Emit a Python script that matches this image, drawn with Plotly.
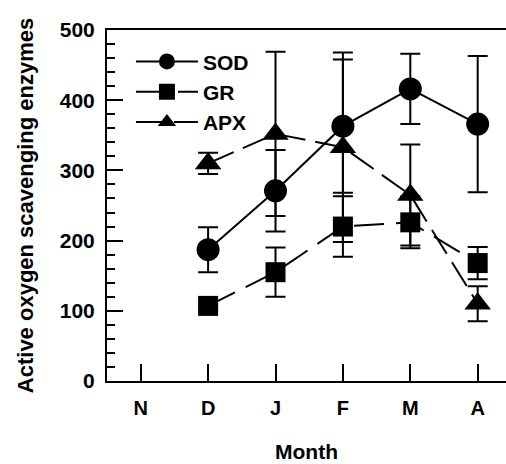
import plotly.graph_objects as go

months = ["N", "D", "J", "F", "M", "A"]

# Enzyme activities per month (None = not measured)
sod = [None, 187, 271, 363, 416, 366]
sod_err = [None, 32, 58, 95, 50, 97]

gr = [None, 107, 155, 220, 226, 168]
gr_err = [None, 0, 35, 43, 37, 23]

apx = [None, 310, 352, 333, 265, 110]
apx_err = [None, 15, 117, 135, 72, 25]

x = list(range(len(months)))
font_family = "Liberation Sans, Arial, sans-serif"

def series(name, y, err, symbol, size, dash):
    return go.Scatter(
        x=x, y=y, name=name, mode="lines+markers",
        connectgaps=False,
        line=dict(color="black", width=2, dash=dash),
        marker=dict(symbol=symbol, size=size, color="black"),
        error_y=dict(type="data", array=err, visible=True,
                     color="black", thickness=2, width=10),
    )

fig = go.Figure([
    series("SOD", sod, sod_err, "circle", 23, "solid"),
    series("GR", gr, gr_err, "square", 20, "30px,12px"),
    series("APX", apx, apx_err, "triangle-up", 23, "28px,10px"),
])

fig.update_layout(
    width=506, height=464,
    margin=dict(l=107, r=0, t=30, b=83),
    plot_bgcolor="white", paper_bgcolor="white",
    font=dict(family=font_family, size=21, color="black", weight="bold"),
    showlegend=True,
    legend=dict(x=0.06, y=0.968, xanchor="left", yanchor="top",
                bgcolor="rgba(0,0,0,0)", itemwidth=62,
                font=dict(size=21, weight="bold"), tracegroupgap=0),
)

fig.update_xaxes(
    range=[-0.5, 5.42], tickvals=x, ticktext=months,
    showline=True, linecolor="black", linewidth=2, mirror=True,
    ticks="inside", ticklen=17, tickwidth=2, tickcolor="black",
    tickfont=dict(size=20), ticklabelstandoff=8,
    showgrid=False, zeroline=False,
    title=dict(text="Month", font=dict(size=21, weight="bold"), standoff=26),
)

fig.update_yaxes(
    range=[0, 500], dtick=100,
    showline=True, linecolor="black", linewidth=2, mirror=False,
    ticks="inside", ticklen=16, tickwidth=2, tickcolor="black",
    tickfont=dict(size=21), ticklabelstandoff=6,
    minor=dict(dtick=20, ticks="inside", ticklen=8, tickwidth=2, tickcolor="black"),
    showgrid=False, zeroline=False,
    title=dict(text="Active oxygen scavenging enzymes",
               font=dict(size=22, weight="bold"), standoff=20),
)

fig.write_html("out.html")
